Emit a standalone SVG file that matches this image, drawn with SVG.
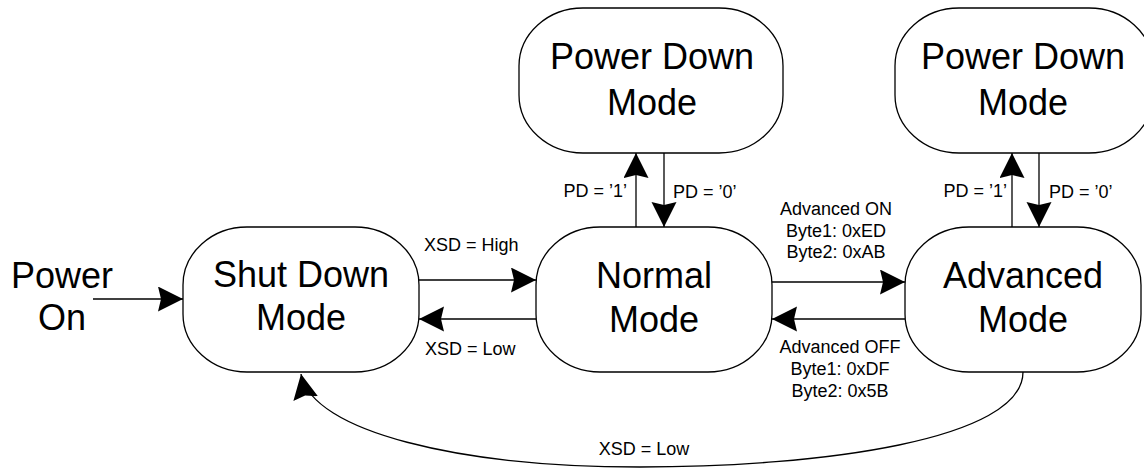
<svg xmlns="http://www.w3.org/2000/svg" width="1144" height="471" viewBox="0 0 1144 471">
<style>
.node{fill:#fff;stroke:#000;stroke-width:1.3}
.big{font-family:"Liberation Sans",Arial,sans-serif;font-size:36px;fill:#000;text-anchor:middle}
.lbl{font-family:"Liberation Sans",Arial,sans-serif;font-size:18px;fill:#000}
.c{text-anchor:middle}
.e{text-anchor:end}
.edge{fill:none;stroke:#000;stroke-width:1.3}
</style>
<defs>
<marker id="ah" markerUnits="userSpaceOnUse" markerWidth="27" markerHeight="26" refX="25" refY="12.5" orient="auto">
<path d="M0,0 L25,12.5 L0,25 L3,12.5 z" fill="#000"/>
</marker>
</defs>
<rect width="1144" height="471" fill="#fff"/>
<g id="power-on">
<text class="big" x="62" y="288">Power</text>
<text class="big" x="62" y="330">On</text>
</g>
<g id="shutdown">
<rect class="node" x="183" y="227" width="236" height="145" rx="64" ry="58"/>
<text class="big" x="301" y="287">Shut Down</text>
<text class="big" x="301" y="330">Mode</text>
</g>
<g id="normal">
<rect class="node" x="536" y="227" width="236" height="145" rx="64" ry="58"/>
<text class="big" x="654" y="288">Normal</text>
<text class="big" x="654" y="332">Mode</text>
</g>
<g id="advanced">
<rect class="node" x="905" y="227" width="236" height="145" rx="64" ry="58"/>
<text class="big" x="1023" y="288">Advanced</text>
<text class="big" x="1023" y="332">Mode</text>
</g>
<g id="powerdown1">
<rect class="node" x="519" y="8" width="264" height="145" rx="64" ry="58"/>
<text class="big" x="652" y="69">Power Down</text>
<text class="big" x="652" y="115">Mode</text>
</g>
<g id="powerdown2">
<rect class="node" x="895" y="8" width="258" height="145" rx="64" ry="58"/>
<text class="big" x="1023" y="69">Power Down</text>
<text class="big" x="1023" y="115">Mode</text>
</g>
<g id="connectors">
<line class="edge" x1="93" y1="299" x2="183" y2="299" marker-end="url(#ah)"/>
<line class="edge" x1="419" y1="280" x2="536" y2="280" marker-end="url(#ah)"/>
<line class="edge" x1="536" y1="319" x2="419" y2="319" marker-end="url(#ah)"/>
<line class="edge" x1="772" y1="282" x2="905" y2="282" marker-end="url(#ah)"/>
<line class="edge" x1="905" y1="319" x2="772" y2="319" marker-end="url(#ah)"/>
<line class="edge" x1="636" y1="227" x2="636" y2="153" marker-end="url(#ah)"/>
<line class="edge" x1="664" y1="153" x2="664" y2="227" marker-end="url(#ah)"/>
<line class="edge" x1="1012" y1="227" x2="1012" y2="153" marker-end="url(#ah)"/>
<line class="edge" x1="1039" y1="153" x2="1039" y2="227" marker-end="url(#ah)"/>
<path class="edge" d="M1023,372 C1023,440 820,467 640,467 C460,467 312,432 301,374" marker-end="url(#ah)"/>
<text class="lbl" x="424" y="251">XSD = High</text>
<text class="lbl" x="425" y="355">XSD = Low</text>
<text class="lbl e" x="627" y="197">PD = ’1’</text>
<text class="lbl" x="673" y="198">PD = ’0’</text>
<text class="lbl e" x="1007" y="197">PD = ’1’</text>
<text class="lbl" x="1049" y="198">PD = ’0’</text>
<text class="lbl c" x="836" y="215">Advanced ON</text>
<text class="lbl c" x="836" y="237">Byte1: 0xED</text>
<text class="lbl c" x="836" y="258">Byte2: 0xAB</text>
<text class="lbl c" x="840" y="353">Advanced OFF</text>
<text class="lbl c" x="840" y="375">Byte1: 0xDF</text>
<text class="lbl c" x="840" y="397">Byte2: 0x5B</text>
<text class="lbl c" x="644" y="455">XSD = Low</text>
</g>
</svg>
